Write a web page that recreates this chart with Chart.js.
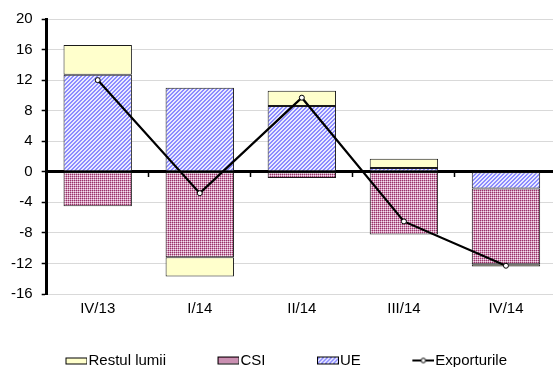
<!DOCTYPE html>
<html>
<head>
<meta charset="utf-8">
<script src="https://cdn.jsdelivr.net/npm/chart.js@4/dist/chart.umd.min.js"></script>
<style>
  html, body { margin: 0; padding: 0; background: #fff; overflow: hidden; }
  #wrap { width: 574px; height: 378px; position: relative; margin-left: -12px; }
</style>
</head>
<body>
<div id="wrap"><canvas id="chart"></canvas></div>
<script>
// Quarterly contributions to export growth, by destination (p.p.)
const categories = ['IV/13', 'I/14', 'II/14', 'III/14', 'IV/14'];
const restulLumii = [3.9, -2.5, 2.0, 1.2, -0.3];
const csi = [-4.5, -11.2, -0.8, -8.2, -9.9];
const ue = [12.7, 11.0, 8.6, 0.5, -2.2];
const exporturile = [12.0, -2.8, 9.7, -6.5, -12.3];
const yMin = -16, yMax = 20, yStep = 4;

const FONT = "'Liberation Sans', Arial, Helvetica, sans-serif";
const FS = 15;

// Fill patterns
function makePattern(size, paint) {
  const c = document.createElement('canvas');
  c.width = size; c.height = size;
  const g = c.getContext('2d');
  paint(g);
  return document.createElement('canvas').getContext('2d').createPattern(c, 'repeat');
}
const csiPattern = makePattern(4, g => {
  g.fillStyle = '#cf93b8'; g.fillRect(0, 0, 4, 4);
  g.fillStyle = '#993366';
  g.fillRect(0, 0, 1, 1); g.fillRect(2, 0, 1, 1); g.fillRect(0, 2, 1, 1); g.fillRect(2, 2, 1, 1);
  g.fillStyle = '#f4e4ee';
  g.fillRect(1, 1, 1, 1); g.fillRect(3, 1, 1, 1); g.fillRect(1, 3, 1, 1); g.fillRect(3, 3, 1, 1);
});
const uePattern = makePattern(4, g => {
  for (let x = 0; x < 4; x++) for (let y = 0; y < 4; y++) {
    g.fillStyle = ((x + y) % 4 < 2) ? '#8c8cff' : '#eaeaff';
    g.fillRect(x, y, 1, 1);
  }
});
const restulFill = '#ffffcc';

// Legend icons: transparent lead-in followed by the swatch
const ICON_LEAD = 29, ICON_W = 22;
function boxIcon(fill, h) {
  const c = document.createElement('canvas');
  c.width = ICON_LEAD + ICON_W; c.height = 10;
  const g = c.getContext('2d');
  const top = Math.round((10 - h) / 2);
  g.fillStyle = fill; g.fillRect(ICON_LEAD, top, ICON_W, h);
  g.strokeStyle = '#000'; g.lineWidth = 1;
  g.strokeRect(ICON_LEAD + 0.5, top + 0.5, ICON_W - 1, h - 1);
  return c;
}
function lineIcon() {
  const c = document.createElement('canvas');
  c.width = ICON_LEAD + ICON_W; c.height = 10;
  const g = c.getContext('2d');
  g.strokeStyle = '#000'; g.lineWidth = 2;
  g.beginPath(); g.moveTo(ICON_LEAD, 5); g.lineTo(ICON_LEAD + ICON_W, 5); g.stroke();
  g.fillStyle = '#fff'; g.lineWidth = 1;
  g.beginPath(); g.arc(ICON_LEAD + ICON_W / 2, 5, 2.3, 0, Math.PI * 2); g.fill(); g.stroke();
  return c;
}
const icons = [boxIcon(restulFill, 7), boxIcon(csiPattern, 8), boxIcon(uePattern, 8), lineIcon()];

const barCommon = {
  type: 'bar', stack: 'dest', borderColor: '#1a1a1a', borderWidth: 1, borderSkipped: false,
  categoryPercentage: 1, barPercentage: 0.67
};

new Chart(document.getElementById('chart'), {
  data: {
    labels: categories,
    datasets: [
      Object.assign({ label: 'Restul lumii', data: restulLumii, backgroundColor: restulFill, order: 3 }, barCommon),
      Object.assign({ label: 'CSI', data: csi, backgroundColor: csiPattern, order: 2 }, barCommon),
      Object.assign({ label: 'UE', data: ue, backgroundColor: uePattern, order: 1 }, barCommon),
      {
        type: 'line', label: 'Exporturile', data: exporturile, stack: 'total', order: 0,
        borderColor: '#000', borderWidth: 2.2, tension: 0,
        pointRadius: 2.5, pointBackgroundColor: '#fff', pointBorderColor: '#000', pointBorderWidth: 1
      }
    ]
  },
  options: {
    responsive: true, maintainAspectRatio: false, animation: false,
    layout: { padding: { left: 0, top: 19, right: 0, bottom: 0 } },
    font: { family: FONT, size: FS },
    scales: {
      x: {
        stacked: true, offset: true,
        grid: { display: false, drawTicks: false, tickLength: 0 },
        border: { display: false },
        ticks: { color: '#000', font: { family: FONT, size: FS }, padding: 6, maxRotation: 0 }
      },
      xZero: {
        type: 'category', position: { y: 0 }, offset: true, z: 1,
        grid: { display: true, drawOnChartArea: false, drawTicks: true, tickLength: 4, offset: true, tickColor: '#000', tickWidth: 1.5 },
        border: { display: true, color: '#000', width: 3 },
        ticks: { display: false }
      },
      y: {
        stacked: true, min: yMin, max: yMax,
        grid: { color: '#d9d9d9', lineWidth: 1, tickColor: '#000', tickLength: 5, tickWidth: 1.5 },
        border: { display: true, color: '#000', width: 3 },
        ticks: { stepSize: yStep, color: '#000', font: { family: FONT, size: FS }, padding: 9 },
        // extra left margin beside the tick labels
        afterFit: (scale) => { scale.width += 14; }
      }
    },
    plugins: {
      tooltip: { enabled: false },
      legend: {
        position: 'bottom', align: 'center',
        labels: {
          usePointStyle: true, pointStyleWidth: ICON_LEAD + 9, padding: 29,
          color: '#000', font: { family: FONT, size: FS },
          generateLabels: (chart) => chart.data.datasets.map((ds, i) => ({
            text: ds.label, pointStyle: icons[i], datasetIndex: i, hidden: false,
            fontColor: '#000', lineWidth: 0, strokeStyle: 'transparent', fillStyle: 'transparent'
          }))
        }
      }
    }
  }
});
</script>
</body>
</html>
